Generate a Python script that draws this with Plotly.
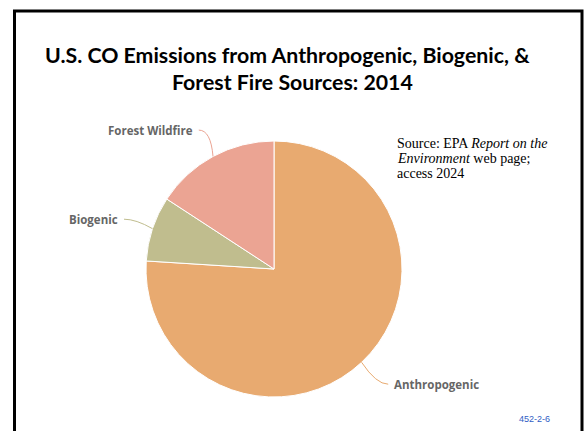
import math
import plotly.graph_objects as go

# ---- data ----
categories = ["Anthropogenic", "Biogenic", "Forest Wildfire"]
shares = [76.0, 8.2, 15.8]
colors = ["#E8AA70", "#C0BD8E", "#EBA493"]

title_lines = ["U.S. CO Emissions from Anthropogenic, Biogenic, &",
               "Forest Fire Sources: 2014"]
source_lines = ["Source: EPA <i>Report on the</i>",
                "<i>Environment</i> web page;",
                "access 2024"]
slide_id = "452-2-6"

# ---- layout geometry (pixels) ----
W, H = 587, 431
CX, CY, R = 274, 269, 128
DIST = 30

fig = go.Figure()
fig.add_trace(go.Pie(
    labels=categories, values=shares, sort=False, direction="clockwise",
    rotation=0, textinfo="none", hoverinfo="label+percent",
    marker=dict(colors=colors, line=dict(color="white", width=1)),
    domain=dict(x=[(CX - R) / W, (CX + R) / W],
                y=[1 - (CY + R) / H, 1 - (CY - R) / H]),
    showlegend=False,
))

annotations = []
shapes = []
total = sum(shares)
cum = 0.0
for cat, v, col in zip(categories, shares, colors):
    mid = (cum + v / 2) / total * 2 * math.pi
    cum += v
    dx, dy = math.sin(mid), -math.cos(mid)
    ex, ey = CX + R * dx, CY + R * dy
    lx, ly = CX + (R + DIST) * dx, CY + (R + DIST) * dy
    side = -1 if dx < 0 else 1
    if side > 0:
        lx += 6
    kx = lx - side * 12
    shapes.append(dict(type="path", xref="x", yref="y",
                       path=f"M {lx:.1f} {ly:.1f} Q {kx:.1f} {ly:.1f} {ex:.1f} {ey:.1f}",
                       line=dict(color=col, width=1)))
    annotations.append(dict(
        xref="x", yref="y", x=lx + side * 4, y=ly, text=f"<b>{cat}</b>",
        showarrow=False, xanchor="left" if side > 0 else "right", yanchor="middle",
        font=dict(family="Open Sans", size=11.5, color="#666666")))

# border
shapes.append(dict(type="rect", xref="x", yref="y", x0=14.5, x1=582, y0=11, y1=440,
                   line=dict(color="black", width=3), fillcolor="rgba(0,0,0,0)"))

title_pos = [(287, 55), (292, 82)]
for t, (x, y) in zip(title_lines, title_pos):
    annotations.append(dict(xref="x", yref="y", x=x, y=y, text=f"<b>{t}</b>",
                            showarrow=False, xanchor="center", yanchor="middle",
                            font=dict(family="Lato", size=21.3, color="black")))

for i, t in enumerate(source_lines):
    annotations.append(dict(xref="x", yref="y", x=395, y=143 + 15 * i, text=t,
                            showarrow=False, xanchor="left", yanchor="middle",
                            font=dict(family="Liberation Serif", size=14, color="black")))

annotations.append(dict(xref="x", yref="y", x=552, y=419, text=slide_id,
                        showarrow=False, xanchor="right", yanchor="middle",
                        font=dict(family="Liberation Sans", size=9, color="#2F5CC4")))

fig.update_layout(
    width=W, height=H, margin=dict(l=0, r=0, t=0, b=0),
    paper_bgcolor="white", plot_bgcolor="white",
    xaxis=dict(range=[0, W], visible=False, fixedrange=True, domain=[0, 1]),
    yaxis=dict(range=[H, 0], visible=False, fixedrange=True, domain=[0, 1]),
    annotations=annotations, shapes=shapes,
)

fig.write_html("out.html")
